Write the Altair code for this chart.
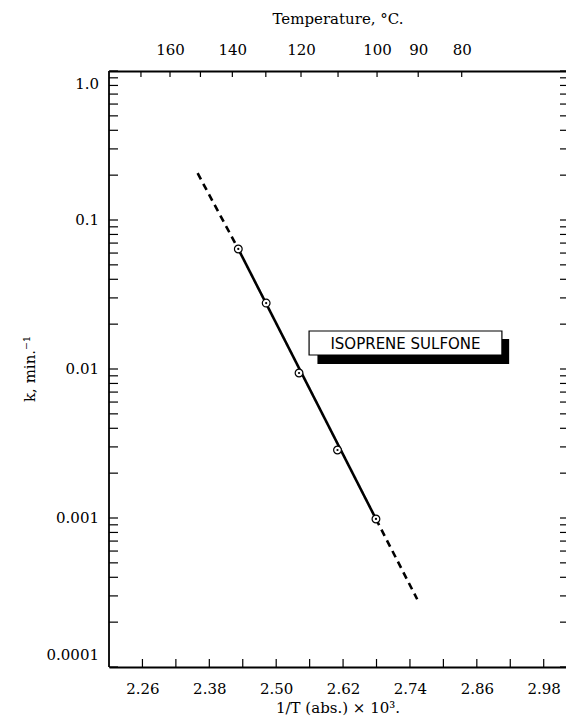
import altair as alt
import pandas as pd

# ---- data ----
INV_T = [2.432, 2.482, 2.541, 2.610, 2.679]          # 1/T x 10^3
K_OBS = [0.0639, 0.0277, 0.0094, 0.00286, 0.000985]  # k, min^-1

LINE_X = [2.359, 2.432, 2.432, 2.679, 2.679, 2.753]
LINE_K = [0.206, 0.0639, 0.0639, 0.000985, 0.000985, 0.000285]
LINE_SEG = ["dash1", "dash1", "solid", "solid", "dash2", "dash2"]

X_TICKS = [2.26, 2.32, 2.38, 2.44, 2.50, 2.56, 2.62, 2.68, 2.74, 2.80, 2.86, 2.92, 2.98]
X_LABELS = [2.26, 2.38, 2.50, 2.62, 2.74, 2.86, 2.98]
TEMP_TICKS = [170, 160, 150, 140, 130, 120, 110, 100, 90, 80]
TEMP_LABELS = [160, 140, 120, 100, 90, 80]
Y_DECADES = [0.0001, 0.001, 0.01, 0.1, 1.0]
Y_LABELS = ["0.0001", "0.001", "0.01", "0.1", "1.0"]
Y_TITLE = "k, min.⁻¹"

LABEL_TEXT = "ISOPRENE SULFONE"
LABEL_BOX = {"x": 2.559, "x2": 2.905, "y": 0.01799, "y2": 0.01242}
SHADOW_BOX = {"x": 2.574, "x2": 2.918, "y": 0.01590, "y2": 0.01081}
LABEL_POS = {"x": 2.732, "y": 0.01475}

W, H = 457, 596
FONT = "DejaVu Serif"

xscale = alt.Scale(domain=[2.20, 3.02], nice=False, zero=False)
yscale = alt.Scale(type="log", domain=[0.0001, 1.0], nice=False)

y_minor = []
for d in Y_DECADES[:-1]:
    for m in range(1, 10):
        y_minor.append(round(d * m, 6))
y_minor.append(1.0)

pts = pd.DataFrame({"x": INV_T, "k": K_OBS})
line_df = pd.DataFrame({"x": LINE_X, "k": LINE_K, "seg": LINE_SEG})
xt_df = pd.DataFrame({"x": X_TICKS})
tt_df = pd.DataFrame({"x": [1000.0 / (t + 273.0) for t in TEMP_TICKS]})
yt_df = pd.DataFrame({"k": y_minor})
yl_df = pd.DataFrame({"k": Y_DECADES, "lab": Y_LABELS})

# bottom ticks + bottom axis
bottom = alt.Chart(xt_df).mark_rule(color="black", strokeWidth=1.2).encode(
    x=alt.X("x:Q", scale=xscale,
            axis=alt.Axis(orient="bottom", values=X_LABELS, format=".2f",
                          title="1/T (abs.) × 10³.", ticks=False, domain=True,
                          labels=True, domainColor="black", domainWidth=1.8,
                          grid=False,
                          labelFont=FONT, labelFontSize=15, labelColor="black",
                          labelPadding=14, titleFont=FONT, titleFontSize=15,
                          titleFontWeight="normal", titleColor="black",
                          titlePadding=4)),
    y=alt.value(H), y2=alt.value(H - 8))

# top ticks + temperature axis
top = alt.Chart(tt_df).mark_rule(color="black", strokeWidth=1.2).encode(
    x=alt.X("x:Q", scale=xscale,
            axis=alt.Axis(orient="top",
                          values=[1000.0 / (t + 273.0) for t in TEMP_LABELS],
                          labelExpr="format(1000 / datum.value - 273, '.0f')",
                          title="Temperature, °C.", ticks=False, domain=True,
                          labels=True, domainColor="black", domainWidth=1.8,
                          grid=False,
                          labelFont=FONT, labelFontSize=15, labelColor="black",
                          labelPadding=14, titleFont=FONT, titleFontSize=15,
                          titleFontWeight="normal", titleColor="black",
                          titlePadding=16)),
    y=alt.value(0), y2=alt.value(6))

# left axis line
left_line = alt.Chart(pd.DataFrame({"k": [Y_DECADES[0]]})).mark_rule(
    color="black", strokeWidth=1.8).encode(
    x=alt.value(0), y=alt.value(0), y2=alt.value(H))

# left ticks
left = alt.Chart(yt_df).mark_rule(color="black", strokeWidth=1.2).encode(
    y=alt.Y("k:Q", scale=yscale, axis=None),
    x=alt.value(0), x2=alt.value(9))

# y tick labels (end labels kept inside the frame, as in the reference)
ylab_base = alt.Chart(yl_df).encode(
    y=alt.Y("k:Q", scale=yscale, axis=None), x=alt.value(-10), text="lab:N")
ylab_mid = ylab_base.mark_text(font=FONT, fontSize=15, color="black",
                               align="right", baseline="middle").transform_filter(
    "datum.k > 0.0001 && datum.k < 1")
ylab_top = ylab_base.mark_text(font=FONT, fontSize=15, color="black",
                               align="right", baseline="top", dy=6).transform_filter(
    "datum.k >= 1")
ylab_bot = ylab_base.mark_text(font=FONT, fontSize=15, color="black",
                               align="right", baseline="bottom", dy=-4).transform_filter(
    "datum.k <= 0.0001")

ytitle = alt.Chart(pd.DataFrame({"t": [Y_TITLE]})).mark_text(
    font=FONT, fontSize=15, color="black", angle=270, align="center",
    baseline="middle").encode(text="t:N", x=alt.value(-79), y=alt.value(H / 2))

lines = alt.Chart(line_df).mark_line(color="black", strokeWidth=2.6).encode(
    x=alt.X("x:Q", scale=xscale, axis=None),
    y=alt.Y("k:Q", scale=yscale, axis=None),
    detail="seg:N",
    strokeDash=alt.StrokeDash("seg:N",
                              scale=alt.Scale(domain=["dash1", "solid", "dash2"],
                                              range=[[7, 5], [1, 0], [7, 5]]),
                              legend=None))

circles = alt.Chart(pts).mark_point(shape="circle", filled=False, fill="white",
                                    fillOpacity=1, color="black", size=60,
                                    strokeWidth=1.2, opacity=1).encode(
    x=alt.X("x:Q", scale=xscale, axis=None),
    y=alt.Y("k:Q", scale=yscale, axis=None))

dots = alt.Chart(pts).mark_point(shape="circle", filled=True, color="black",
                                 size=5, opacity=1).encode(
    x=alt.X("x:Q", scale=xscale, axis=None),
    y=alt.Y("k:Q", scale=yscale, axis=None))

shadow = alt.Chart(pd.DataFrame([SHADOW_BOX])).mark_rect(color="black").encode(
    x=alt.X("x:Q", scale=xscale, axis=None), x2="x2:Q",
    y=alt.Y("y:Q", scale=yscale, axis=None), y2="y2:Q")

box = alt.Chart(pd.DataFrame([LABEL_BOX])).mark_rect(
    fill="white", stroke="black", strokeWidth=1.2).encode(
    x=alt.X("x:Q", scale=xscale, axis=None), x2="x2:Q",
    y=alt.Y("y:Q", scale=yscale, axis=None), y2="y2:Q")

label = alt.Chart(pd.DataFrame([dict(LABEL_POS, t=LABEL_TEXT)])).mark_text(
    font="DejaVu Sans", fontSize=15, color="black", align="center",
    baseline="middle").encode(
    x=alt.X("x:Q", scale=xscale, axis=None),
    y=alt.Y("y:Q", scale=yscale, axis=None),
    text="t:N")

# right ticks (no axis line)
right = alt.Chart(yt_df).mark_rule(color="black", strokeWidth=1.2).encode(
    y=alt.Y("k:Q", scale=yscale, axis=None),
    x=alt.value(W - 6), x2=alt.value(W))

chart = alt.layer(bottom, top, left_line, left, ylab_mid, ylab_top, ylab_bot,
                  ytitle, lines, circles, dots,
                  shadow, box, label, right).resolve_axis(
    x="independent").properties(
    width=W, height=H,
    autosize=alt.AutoSizeParams(type="none"),
    padding={"left": 101, "top": 63, "right": 0, "bottom": 50},
).configure_view(
    stroke="white", strokeWidth=0, strokeOpacity=0, fill="white"
).configure_axis(
    domain=False, grid=False, ticks=False, labels=False
).configure_axisY(
    domain=False, grid=False, ticks=False, labels=False
).configure(background="white")

chart.save("out.html", embed_options={"renderer": "svg", "actions": False})
